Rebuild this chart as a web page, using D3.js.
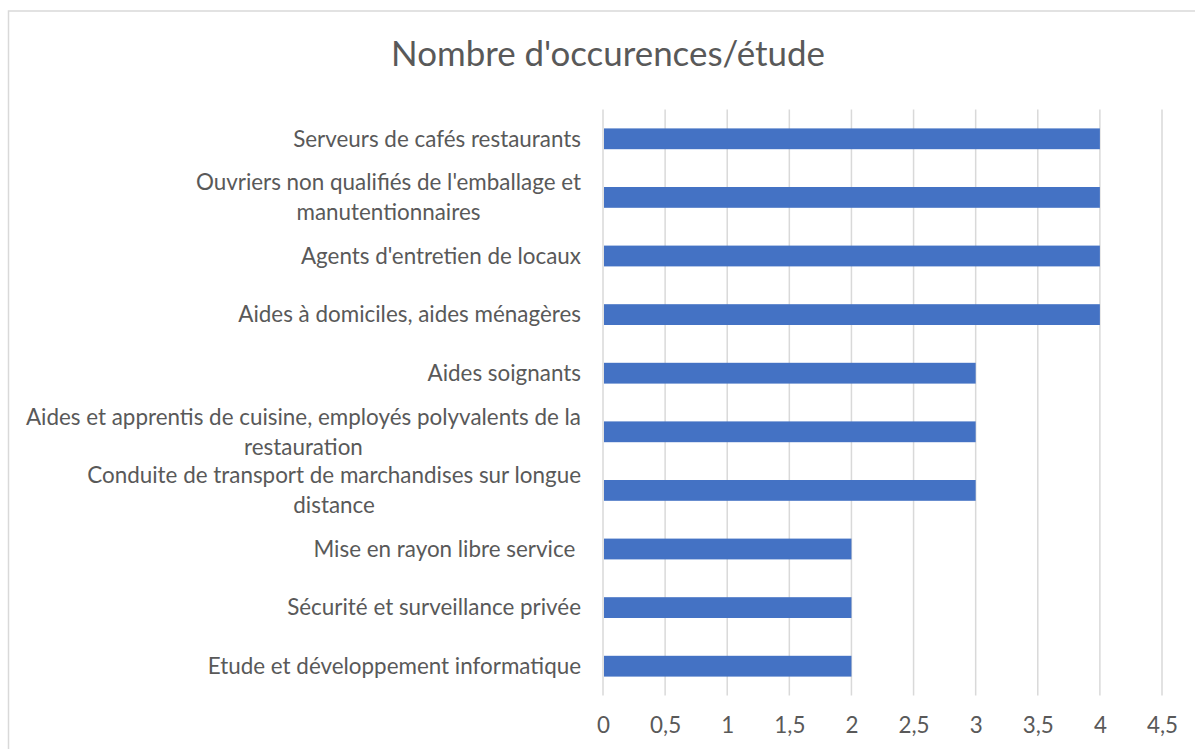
<!DOCTYPE html>
<html>
<head>
<meta charset="utf-8">
<script src="https://cdn.jsdelivr.net/npm/d3@7"></script>
<style>
  html, body { margin: 0; padding: 0; background: #fff; }
  svg { display: block; }
  text { font-family: Lato, "Open Sans", sans-serif; fill: #595959; white-space: pre; }
</style>
</head>
<body>
<div id="chart"></div>
<script>
// categories top to bottom, "\n" marks the wrap as in the original
const categories = [
  "Serveurs de cafés restaurants",
  "Ouvriers non qualifiés de l'emballage et\nmanutentionnaires",
  "Agents d'entretien de locaux",
  "Aides à domiciles, aides ménagères",
  "Aides soignants",
  "Aides et apprentis de cuisine, employés polyvalents de la\nrestauration",
  "Conduite de transport de marchandises sur longue\ndistance",
  "Mise en rayon libre service ",
  "Sécurité et surveillance privée",
  "Etude et développement informatique"
];
const occurrences = [4, 4, 4, 4, 3, 3, 3, 2, 2, 2];
const xTicks = [0, 0.5, 1, 1.5, 2, 2.5, 3, 3.5, 4, 4.5];
const chartTitle = "Nombre d'occurences/étude";

const width = 1195, height = 749;
const plot = { left: 603, right: 1162, top: 109.5, bottom: 695.5 };

const svg = d3.select('#chart').append('svg')
  .attr('width', width)
  .attr('height', height);

// outer chart frame (runs off the right / bottom of the picture)
svg.append('rect')
  .attr('x', 8.5).attr('y', 11)
  .attr('width', 1250).attr('height', 800)
  .attr('fill', 'none')
  .attr('stroke', '#d9d9d9')
  .attr('stroke-width', 1.5);

// pick a label size so the fallback font has Calibri-like widths
const probe = svg.append('text').attr('font-size', 20).text('Serveurs de cafés restaurants');
const labelSize = 20 * 288 / probe.node().getComputedTextLength();
probe.remove();

const x = d3.scaleLinear().domain([0, 4.5]).range([plot.left, plot.right]);
const y = d3.scaleBand()
  .domain(categories)
  .range([plot.top, plot.bottom])
  .paddingInner(0.645)
  .paddingOuter(0.3225);

// gridlines
svg.append('g')
  .selectAll('line')
  .data(xTicks)
  .join('line')
  .attr('x1', d => x(d)).attr('x2', d => x(d))
  .attr('y1', plot.top).attr('y2', plot.bottom)
  .attr('stroke', '#d9d9d9')
  .attr('stroke-width', 1.5);

// bars
svg.append('g')
  .selectAll('rect')
  .data(categories)
  .join('rect')
  .attr('x', x(0) + 1)
  .attr('y', d => y(d))
  .attr('width', (d, i) => x(occurrences[i]) - x(0) - 1)
  .attr('height', y.bandwidth())
  .attr('fill', '#4472c4');

// x tick labels
const xAxis = svg.append('g')
  .attr('transform', `translate(0,${plot.bottom})`)
  .call(d3.axisBottom(x).tickValues(xTicks).tickSize(0).tickPadding(0)
    .tickFormat(d => String(d).replace('.', ',')));
xAxis.select('.domain').remove();
xAxis.selectAll('text')
  .attr('dy', null)
  .attr('y', 37.5)
  .attr('fill', '#595959')
  .attr('font-size', labelSize)
  .style('font-family', 'Lato, "Open Sans", sans-serif');

// category labels: lines centred on each other, block right-aligned
const labelRight = 581;
const lineGap = 30;
categories.forEach(cat => {
  const lines = cat.split('\n');
  const cy = y(cat) + y.bandwidth() / 2;
  const g = svg.append('g');
  const texts = lines.map((ln, k) => g.append('text')
    .attr('font-size', labelSize)
    .attr('y', cy + (k - (lines.length - 1) / 2) * lineGap)
    .attr('dy', '0.35em')
    .text(ln));
  const maxW = d3.max(texts, t => t.node().getComputedTextLength());
  texts.forEach(t => t.attr('text-anchor', 'middle').attr('x', labelRight - maxW / 2));
});

// title
svg.append('text')
  .attr('x', 608)
  .attr('y', 66)
  .attr('text-anchor', 'middle')
  .attr('font-size', labelSize * 31 / 18.7 * 432 / 460)
  .text(chartTitle);
</script>
</body>
</html>
